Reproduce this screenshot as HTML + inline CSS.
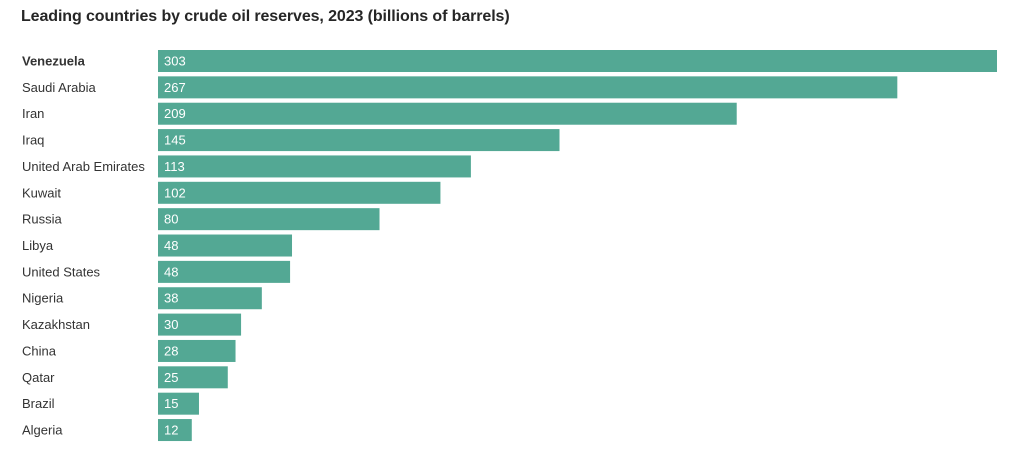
<!DOCTYPE html>
<html><head><meta charset="utf-8"><style>
body{margin:0;background:#fff;font-family:"Liberation Sans",Arial,sans-serif;}
#wrap{position:relative;width:1023px;height:451px;overflow:hidden}
h1{position:absolute;left:21px;top:8px;margin:0;font-size:16px;font-weight:bold;color:#262626;letter-spacing:-0.1px}
</style></head><body>
<div id="wrap">
<h1>Leading countries by crude oil reserves, 2023 (billions of barrels)</h1>
<svg id="svg" width="1023" height="451" style="position:absolute;left:0;top:0"></svg>
</div>
<script>
const countries=["Venezuela","Saudi Arabia","Iran","Iraq","United Arab Emirates","Kuwait","Russia","Libya","United States","Nigeria","Kazakhstan","China","Qatar","Brazil","Algeria"];
const reserves=[303,267,209,145,113,102,80,48.4,47.7,37.5,30,28,25.2,14.8,12.2];
const valueLabels=["303","267","209","145","113","102","80","48","48","38","30","28","25","15","12"];
const NS="http://www.w3.org/2000/svg";
const svg=document.getElementById('svg');
const x0=158,x1=997,maxV=303;
const xs=v=>x0+(x1-x0)*v/maxV;
const y0=50,step=26.36,bh=22;
const ys=i=>y0+i*step;
countries.forEach((c,i)=>{
  const y=ys(i);
  const t=document.createElementNS(NS,'text');
  
  
  t.setAttribute('x',22);t.setAttribute('y',y+bh/2+4.5);
  t.setAttribute('font-size','13');t.setAttribute('fill','#333');
  if(i===0)t.setAttribute('font-weight','bold');
  t.setAttribute('font-family','Liberation Sans, sans-serif');
  t.textContent=c;svg.appendChild(t);
  const r=document.createElementNS(NS,'rect');
  
  
  r.setAttribute('x',x0);r.setAttribute('y',y);
  r.setAttribute('width',xs(reserves[i])-x0);r.setAttribute('height',bh);
  r.setAttribute('fill','#53a894');svg.appendChild(r);
  const v=document.createElementNS(NS,'text');
  
  
  v.setAttribute('x',x0+6);v.setAttribute('y',y+bh/2+4.5);
  v.setAttribute('font-size','13');v.setAttribute('fill','#fff');
  v.setAttribute('font-family','Liberation Sans, sans-serif');
  v.textContent=valueLabels[i];svg.appendChild(v);
});
</script>
</body></html>
